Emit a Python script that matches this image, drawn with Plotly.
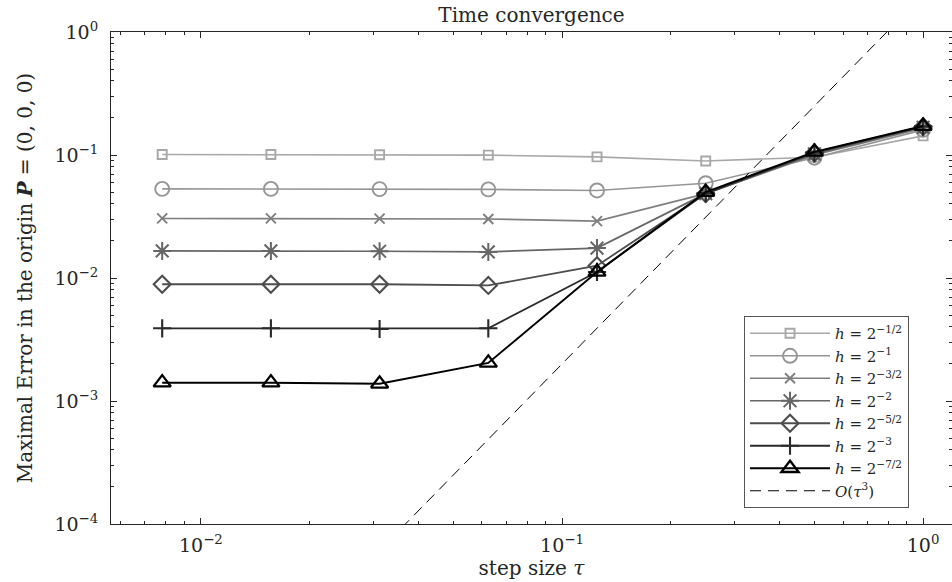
import plotly.graph_objects as go

tau = [2**-7, 2**-6, 2**-5, 2**-4, 2**-3, 2**-2, 2**-1, 1.0]

err_h1 = [0.1009, 0.1008, 0.1005, 0.0998, 0.0965, 0.0895, 0.0960, 0.143]
err_h2 = [0.0530, 0.0530, 0.0528, 0.0525, 0.0515, 0.0590, 0.0950, 0.160]
err_h3 = [0.0305, 0.0305, 0.0304, 0.0302, 0.0290, 0.0485, 0.1000, 0.165]
err_h4 = [0.0166, 0.0166, 0.0165, 0.0163, 0.0175, 0.0485, 0.1020, 0.168]
err_h5 = [0.0089, 0.0089, 0.0089, 0.0087, 0.0126, 0.0485, 0.1040, 0.170]
err_h6 = [0.0039, 0.0039, 0.00385, 0.0039, 0.0112, 0.0490, 0.1050, 0.171]
err_h7 = [0.00141, 0.00141, 0.00138, 0.00204, 0.0112, 0.0500, 0.1060, 0.172]

ref_y = [9.537e-7, 7.629e-6, 6.104e-5, 4.883e-4, 3.906e-3, 0.03125, 0.25, 2.0]

labels = ["<i>h</i> = 2<sup>−1/2</sup>", "<i>h</i> = 2<sup>−1</sup>",
          "<i>h</i> = 2<sup>−3/2</sup>", "<i>h</i> = 2<sup>−2</sup>",
          "<i>h</i> = 2<sup>−5/2</sup>", "<i>h</i> = 2<sup>−3</sup>",
          "<i>h</i> = 2<sup>−7/2</sup>"]
ref_label = "<i>O</i>(<i>τ</i><sup>3</sup>)"

series = [err_h1, err_h2, err_h3, err_h4, err_h5, err_h6, err_h7]
colors = ["#a8a8a8", "#969696", "#7f7f7f", "#666666", "#4d4d4d", "#2a2a2a", "#000000"]
symbols = ["square-open", "circle-open", "x-thin-open", "asterisk-open",
           "diamond-open", "cross-thin-open", "triangle-up-open"]
sizes = [9, 14, 10, 15, 13, 13, 15]
lwidths = [1.6, 1.6, 1.6, 1.7, 1.8, 1.8, 2.0]

x_tickvals = [1e-2, 1e-1, 1e0]
x_ticktext = ["10<sup>−2</sup>", "10<sup>−1</sup>", "10<sup>0</sup>"]
y_tickvals = [1e-4, 1e-3, 1e-2, 1e-1, 1e0]
y_ticktext = ["10<sup>−4</sup>", "10<sup>−3</sup>", "10<sup>−2</sup>", "10<sup>−1</sup>", "10<sup>0</sup>"]

minor_x = [k * 10**n for n in (-3, -2, -1, 0) for k in range(2, 10)]
minor_y = [k * 10**n for n in (-4, -3, -2, -1) for k in range(2, 10)]

fig = go.Figure()
for ys, lab, c, s, sz, lw in zip(series, labels, colors, symbols, sizes, lwidths):
    fig.add_trace(go.Scatter(
        x=tau, y=ys, name=lab, mode="lines+markers",
        line=dict(color=c, width=lw),
        marker=dict(symbol=s, size=sz, color=c, line=dict(color=c, width=lw + 0.3)),
    ))
fig.add_trace(go.Scatter(
    x=tau, y=ref_y, name=ref_label, mode="lines",
    line=dict(color="black", width=1, dash="11px,7px"),
))

font_family = "DejaVu Serif, Liberation Serif, serif"
axis_common = dict(
    type="log", showgrid=False, zeroline=False, automargin=False,
    showline=True, linecolor="#262626", linewidth=1, mirror="ticks",
    ticks="inside", ticklen=6, tickcolor="#262626", tickwidth=1,
    tickfont=dict(family=font_family, size=19, color="#262626"),
    tickmode="array",
)

fig.update_layout(
    width=952, height=582,
    margin=dict(l=111, r=0, t=32, b=58, autoexpand=False),
    paper_bgcolor="white", plot_bgcolor="white",
    font=dict(family=font_family, color="#262626"),
    title=dict(text="Time convergence", x=(111 + 952) / 2 / 952, xanchor="center",
               y=1 - 15 / 582, yanchor="middle", yref="container",
               font=dict(family=font_family, size=20, color="#262626")),
    xaxis=dict(axis_common, range=[-2.249, 0.080], tickvals=x_tickvals, ticktext=x_ticktext,
               ticklabelstandoff=4,
               minor=dict(tickmode="array", tickvals=minor_x, ticks="inside", ticklen=3,
                          tickcolor="#262626", showgrid=False),
               title=dict(text="step size <i>τ</i>", font=dict(family=font_family, size=20),
                          standoff=2)),
    yaxis=dict(axis_common, range=[-4, 0], tickvals=y_tickvals, ticktext=y_ticktext,
               ticklabelstandoff=8,
               minor=dict(tickmode="array", tickvals=minor_y, ticks="inside", ticklen=3,
                          tickcolor="#262626", showgrid=False),
               title=dict(text="Maximal Error in the origin <b><i>P</i></b> = (0, 0, 0)",
                          font=dict(family=font_family, size=20), standoff=16)),
    legend=dict(x=0.7527, y=0.0325, xanchor="left", yanchor="bottom",
                bgcolor="white", bordercolor="#555555", borderwidth=1,
                font=dict(family=font_family, size=15, color="#262626"),
                itemwidth=80, tracegroupgap=0),
    showlegend=True,
)

fig.write_html("out.html", config={"displayModeBar": False},
               post_script="document.body.style.margin='0px';")
